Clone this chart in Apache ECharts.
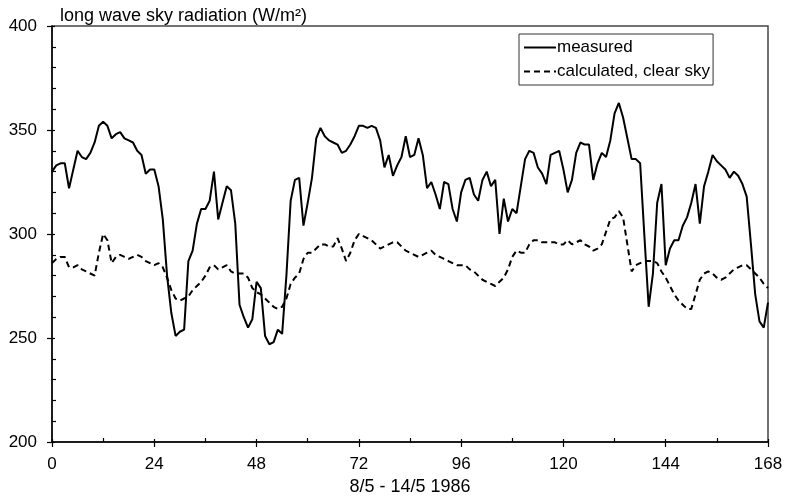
<!DOCTYPE html>
<html>
<head>
<meta charset="utf-8">
<script src="https://cdn.jsdelivr.net/npm/echarts@6/dist/echarts.min.js"></script>
<style>
html,body{margin:0;padding:0;background:#fff;}
#c{width:786px;height:499px;}
</style>
</head>
<body>
<div id="c"></div>
<script>
// measured long wave sky radiation, hourly (h 0..168)
var measured = [
330,333,334,334,322,331,340,337,336,339,344,352,354,352,346,348,349,346,345,344,
340,338,329,331,331,323,307,280,262,251,253,254,287,292,305,312,312,316,330,307,
315,323,321,305,266,260,255,259,277,274,251,247,248,254,252,280,316,326,327,304,
315,327,346,351,347,345,344,343,339,340,343,347,352,352,351,352,351,345,332,338,
328,333,337,347,337,338,346,338,322,325,319,312,325,324,312,306,320,326,327,319,
316,326,330,323,326,300,317,306,312,310,323,336,340,339,332,329,324,338,339,340,
331,320,326,339,344,343,343,326,334,339,337,345,358,363,356,346,336,336,334,299,
265,281,315,324,285,293,297,297,304,308,315,324,305,323,330,338,335,333,331,327,
330,328,324,318,295,271,258,255,267
];
// calculated clear sky values, hourly (h 0..168)
var calculated = [
286,288,289,289,284,284,285,283,282,281,280,291,300,297,286,289,290,289,288,289,
290,289,287,286,285,286,284,279,273,269,268,269,270,273,275,277,280,284,285,283,
284,285,282,281,281,281,279,274,272,271,269,267,265,264,265,269,276,279,281,288,
291,291,293,295,295,294,294,298,293,287,291,297,300,299,298,297,295,293,294,295,
296,296,294,292,291,290,289,290,291,292,290,289,288,287,286,285,285,285,283,282,
280,278,277,276,275,277,279,283,289,292,291,291,295,297,297,296,296,296,296,295,
295,297,295,296,297,295,294,292,293,295,301,307,308,311,308,295,282,285,286,287,
287,287,286,282,279,275,271,268,266,264,264,271,278,281,282,281,279,278,279,281,
283,284,285,285,283,281,279,276,274
];
var xTicks = [0, 24, 48, 72, 96, 120, 144, 168];
var yTicks = [200, 250, 300, 350, 400];
var seriesNames = ['measured', 'calculated, clear sky'];
var titleText = 'long wave sky radiation (W/m\u00b2)';
var xName = '8/5 - 14/5 1986';

function pairs(vals){ return vals.map(function(v,i){ return [i, v]; }); }

var FONT = '"Liberation Sans", Arial, sans-serif';
var chart = echarts.init(document.getElementById('c'), null, {renderer:'canvas'});
var xBase = {type:'value', min:xTicks[0], max:xTicks[xTicks.length-1], interval:24, splitLine:{show:false}};
var yBase = {type:'value', min:yTicks[0], max:yTicks[yTicks.length-1], interval:50, splitLine:{show:false}};
chart.setOption({
  animation:false,
  backgroundColor:'#fff',
  title:{text:titleText, left:55, top:2, textStyle:{fontFamily:FONT, fontSize:18, fontWeight:'normal', color:'#000'}},
  grid:{left:52, right:18, top:26, bottom:57, containLabel:false, outerBoundsMode:'none',
        show:true, borderColor:'#444', borderWidth:1.5, backgroundColor:'transparent'},
  legend:{
    orient:'vertical', left:519, top:34,
    backgroundColor:'#fff', borderColor:'#333', borderWidth:1, borderRadius:0,
    padding:[5,3,5,4], itemGap:7, itemWidth:32, itemHeight:14,
    itemStyle:{opacity:0, color:'rgba(0,0,0,0)', borderWidth:0},
    textStyle:{fontFamily:FONT, fontSize:17, color:'#000', padding:[0,0,0,-4]},
    data:[{name:seriesNames[0]},{name:seriesNames[1]}]
  },
  xAxis:[
    Object.assign({}, xBase, {
      name:xName, nameLocation:'middle', nameGap:35,
      nameTextStyle:{fontFamily:FONT, fontSize:18, color:'#000'},
      axisLine:{show:true, onZero:false, lineStyle:{color:'#000', width:1.5}},
      axisTick:{show:true, inside:false, length:5, lineStyle:{color:'#000', width:1.2}},
      axisLabel:{show:true, margin:14, fontFamily:FONT, fontSize:17, color:'#000'}
    }),
    Object.assign({}, xBase, {
      position:'bottom',
      axisLine:{show:false, onZero:false},
      axisTick:{show:true, inside:true, length:3, lineStyle:{color:'#000', width:1.2}},
      minorTick:{show:true, splitNumber:2, length:4, lineStyle:{color:'#000', width:1.2}},
      axisLabel:{show:false}
    })
  ],
  yAxis:[
    Object.assign({}, yBase, {
      axisLine:{show:true, onZero:false, lineStyle:{color:'#000', width:1.5}},
      axisTick:{show:true, inside:false, length:5, lineStyle:{color:'#000', width:1.2}},
      axisLabel:{show:true, margin:15, fontFamily:FONT, fontSize:17, color:'#000'}
    }),
    Object.assign({}, yBase, {
      position:'left',
      axisLine:{show:false, onZero:false},
      axisTick:{show:true, inside:true, length:3, lineStyle:{color:'#000', width:1.2}},
      minorTick:{show:true, splitNumber:5, length:4, lineStyle:{color:'#000', width:1.2}},
      axisLabel:{show:false}
    })
  ],
  series:[
    {name:seriesNames[0], type:'line', data:pairs(measured), symbol:'none', showSymbol:false,
     lineStyle:{color:'#000', width:2}, itemStyle:{color:'#000'}},
    {name:seriesNames[1], type:'line', data:pairs(calculated), symbol:'none', showSymbol:false,
     lineStyle:{color:'#000', width:2, type:[6,4]}, itemStyle:{color:'#000'}}
  ]
});
</script>
</body>
</html>
